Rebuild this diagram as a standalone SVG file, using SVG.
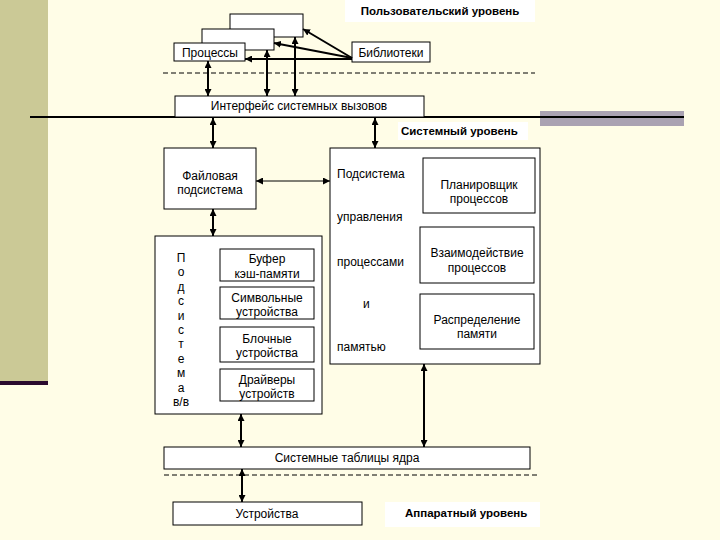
<svg xmlns="http://www.w3.org/2000/svg" width="720" height="540" viewBox="0 0 720 540">
<defs>
<marker id="ah" viewBox="0 0 10 10" refX="10" refY="5" markerWidth="7" markerHeight="7" markerUnits="userSpaceOnUse" orient="auto-start-reverse">
<path d="M0,0 L10,5 L0,10 z" fill="#000"/>
</marker>
<style>
.box{fill:#fff;stroke:#000;stroke-width:1}
.t{font-family:"Liberation Sans",Arial,sans-serif;font-size:12px;fill:#000}
.c{text-anchor:middle}
.b{font-family:"Liberation Sans",Arial,sans-serif;font-size:11.5px;font-weight:bold;fill:#000}
.ln{stroke:#000;stroke-width:2;fill:none}
.thin{stroke:#000;stroke-width:1;fill:none}
.dash{stroke:#000;stroke-width:1;stroke-dasharray:5,3;fill:none}
</style>
</defs>
<rect x="0" y="0" width="720" height="540" fill="#fffde7"/>
<rect x="0" y="0" width="48" height="381" fill="#cbc996"/>
<rect x="0" y="381" width="48" height="4" fill="#2a0a2e"/>
<rect x="540" y="111" width="144" height="15" fill="#aaa2b2"/>

<g id="levels">
<rect x="345" y="0" width="190" height="22" fill="#fff"/>
<text class="b c" x="440" y="15">Пользовательский уровень</text>
<rect x="398" y="122" width="130" height="18" fill="#fff"/>
<text class="b" x="401" y="135">Системный уровень</text>
<rect x="385" y="502" width="155" height="25" fill="#fff"/>
<text class="b" x="405" y="517">Аппаратный уровень</text>
<line class="dash" x1="163" y1="73" x2="535" y2="73"/>
<line class="dash" x1="164" y1="475" x2="540" y2="475"/>
<line x1="30" y1="117" x2="684" y2="117" stroke="#000" stroke-width="2"/>
</g>

<g id="proc-back"><rect class="box" x="230" y="14" width="73" height="23"/></g>
<g id="proc-mid"><rect class="box" x="202" y="29" width="72" height="21"/></g>
<g id="processes"><rect class="box" x="174" y="43" width="71" height="18"/><text class="t c" x="210" y="57">Процессы</text></g>
<g id="libraries"><rect class="box" x="352" y="42" width="78" height="20"/><text class="t c" x="391" y="57">Библиотеки</text></g>
<g id="syscall"><rect class="box" x="175" y="96" width="249" height="21"/><text class="t c" x="299" y="110">Интерфейс системных вызовов</text></g>
<g id="fs"><rect class="box" x="164" y="148" width="92" height="61"/><text class="t c" x="210" y="180">Файловая</text><text class="t c" x="210" y="194">подсистема</text></g>
<g id="procmgmt"><rect class="box" x="330" y="148" width="210" height="216"/>
<text class="t" x="337" y="178">Подсистема</text>
<text class="t" x="337" y="221">управления</text>
<text class="t" x="337" y="266">процессами</text>
<text class="t" x="363" y="308">и</text>
<text class="t" x="337" y="351">памятью</text></g>
<g id="sched"><rect class="box" x="423" y="158" width="112" height="55"/><text class="t c" x="479" y="189">Планировщик</text><text class="t c" x="479" y="203">процессов</text></g>
<g id="ipc"><rect class="box" x="420" y="227" width="114" height="56"/><text class="t c" x="477" y="257">Взаимодействие</text><text class="t c" x="477" y="272">процессов</text></g>
<g id="mem"><rect class="box" x="420" y="294" width="114" height="55"/><text class="t c" x="477" y="324">Распределение</text><text class="t c" x="477" y="338">памяти</text></g>
<g id="io"><rect class="box" x="155" y="236" width="167" height="178"/>
<text class="t c" x="181" y="262">П</text>
<text class="t c" x="181" y="276">о</text>
<text class="t c" x="181" y="291">д</text>
<text class="t c" x="181" y="305">с</text>
<text class="t c" x="181" y="320">и</text>
<text class="t c" x="181" y="334">с</text>
<text class="t c" x="181" y="348">т</text>
<text class="t c" x="181" y="363">е</text>
<text class="t c" x="181" y="377">м</text>
<text class="t c" x="181" y="392">а</text>
<text class="t c" x="181" y="406">в/в</text></g>
<g id="cache"><rect class="box" x="220" y="249" width="94" height="32"/><text class="t c" x="267" y="263">Буфер</text><text class="t c" x="267" y="278">кэш-памяти</text></g>
<g id="char"><rect class="box" x="220" y="287" width="94" height="32"/><text class="t c" x="267" y="302">Символьные</text><text class="t c" x="267" y="316">устройства</text></g>
<g id="block"><rect class="box" x="220" y="327" width="94" height="35"/><text class="t c" x="267" y="343">Блочные</text><text class="t c" x="267" y="357">устройства</text></g>
<g id="drivers"><rect class="box" x="220" y="369" width="94" height="32"/><text class="t c" x="267" y="384">Драйверы</text><text class="t c" x="267" y="398">устройств</text></g>
<g id="tables"><rect class="box" x="164" y="447" width="366" height="22"/><text class="t c" x="347" y="462">Системные таблицы ядра</text></g>
<g id="devices"><rect class="box" x="173" y="502" width="189" height="23"/><text class="t c" x="267" y="518">Устройства</text></g>

<g id="connectors">
<line class="ln" x1="352" y1="58" x2="303" y2="29" marker-end="url(#ah)"/>
<line class="ln" x1="352" y1="58" x2="274" y2="43" marker-end="url(#ah)"/>
<line class="ln" x1="352" y1="59" x2="245" y2="59" marker-end="url(#ah)"/>
<line class="ln" x1="208" y1="61" x2="208" y2="96" marker-start="url(#ah)" marker-end="url(#ah)"/>
<line class="ln" x1="267" y1="50" x2="267" y2="96" marker-start="url(#ah)" marker-end="url(#ah)"/>
<line class="ln" x1="295" y1="37" x2="295" y2="96" marker-start="url(#ah)" marker-end="url(#ah)"/>
<line class="ln" x1="213" y1="118" x2="213" y2="148" marker-start="url(#ah)" marker-end="url(#ah)"/>
<line class="ln" x1="375" y1="118" x2="375" y2="148" marker-start="url(#ah)" marker-end="url(#ah)"/>
<line class="thin" x1="256" y1="181" x2="330" y2="181" marker-start="url(#ah)" marker-end="url(#ah)"/>
<line class="ln" x1="213" y1="209" x2="213" y2="236" marker-start="url(#ah)" marker-end="url(#ah)"/>
<line class="ln" x1="241" y1="414" x2="241" y2="447" marker-start="url(#ah)" marker-end="url(#ah)"/>
<line class="ln" x1="424" y1="364" x2="424" y2="447" marker-start="url(#ah)" marker-end="url(#ah)"/>
<line class="ln" x1="242" y1="469" x2="242" y2="502" marker-start="url(#ah)" marker-end="url(#ah)"/>
</g>
</svg>
